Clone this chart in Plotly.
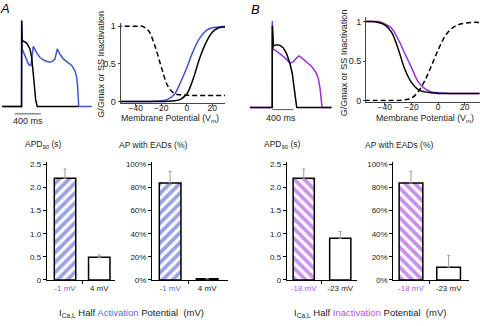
import plotly.graph_objects as go

# ---------------- data ----------------
# Panel A action potentials (time ms, membrane potential mV)
ap_a_black_t = [-300, -2, 0, 8, 25, 77, 128, 154, 179, 194, 216, 240, 870]
ap_a_black_v = [-85, -85, 45, 14, 14, 11, 2, -11, -36, -55, -75, -85, -85]
ap_a_blue_t = [-300, -2, 0, 9, 45, 77, 110, 143, 179, 231, 282, 359, 436, 487, 513, 548,
               590, 641, 693, 770, 821, 847, 862, 878, 1080]
ap_a_blue_v = [-85, -85, 45, 2, -7, -16, -22, -23, 6, -4, -11, -16, -18, -16, -13, 2,
               -6, -13, -17, -23, -31, -41, -55, -85, -85]

# Panel B action potentials
ap_b_black_t = [-425, -2, 0, 19, 84, 147, 210, 274, 337, 381, 413, 438, 465, 1131]
ap_b_black_v = [-85, -85, 39, 8, 10, 9, 5, -4, -19, -34, -54, -74, -85, -85]
ap_b_purple_t = [-425, -2, 0, 19, 84, 147, 242, 337, 400, 465, 509, 560, 655, 750, 832,
                 876, 909, 933, 947, 1131]
ap_b_purple_v = [-85, -85, 46, 3, 0, -4, -10, -18, -16, -10, -7, -10, -17, -23, -32,
                 -41, -56, -74, -85, -85]
scale_bar_ms = 400

# Steady-state curves, panel A (membrane potential mV)
vm_a = [-55, -50, -45, -40, -35, -30, -25, -20, -15, -10, -5, 0, 5, 10, 15, 20, 25, 30]
act_a_blue = [0, 0, 0, 0, 0, 0, 0.005, 0.01, 0.03, 0.09, 0.25, 0.45, 0.67, 0.84, 0.94, 0.98, 0.99, 1.0]
act_a_black = [0, 0, 0, 0, 0, 0, 0, 0, 0.003, 0.01, 0.03, 0.1, 0.3, 0.57, 0.78, 0.92, 0.98, 0.99]
inact_a = [1, 1, 1, 1, 1.0, 0.94, 0.74, 0.46, 0.21, 0.11, 0.09, 0.085, 0.08, 0.08, 0.08, 0.08, 0.08, 0.08]

# Steady-state curves, panel B
vm_b = [-55, -50, -45, -40, -35, -30, -25, -20, -15, -10, -5, 0, 5, 10, 15, 20, 25, 30, 35]
inact_b_black = [1.0, 1.0, 0.99, 0.96, 0.87, 0.66, 0.40, 0.23, 0.14, 0.11, 0.1, 0.09, 0.09,
                 0.09, 0.09, 0.09, 0.09, 0.09, 0.09]
inact_b_purple = [1.0, 1.0, 1.0, 0.97, 0.92, 0.78, 0.6, 0.42, 0.24, 0.15, 0.11, 0.1, 0.095,
                  0.09, 0.09, 0.09, 0.09, 0.09, 0.09]
act_b = [0, 0, 0, 0, 0, 0, 0.01, 0.03, 0.11, 0.25, 0.44, 0.64, 0.81, 0.91, 0.96, 0.98, 0.99, 0.99, 0.99]

# Bar charts
cats_a = ['-1 mV', '4 mV']
cats_b = ['-18 mV', '-23 mV']
apd_a = [2.2, 0.49]
apd_a_err = [0.2, 0.05]
ead_a = [84, 1]
ead_a_err = [10, 0]
apd_b = [2.2, 0.9]
apd_b_err = [0.2, 0.15]
ead_b = [84, 11]
ead_b_err = [10, 10]
apd_ticks = [0, 0.5, 1.0, 1.5, 2.0, 2.5]
apd_ticktext = ['0', '0.5', '1.0', '1.5', '2.0', '2.5']
ead_ticks = [0, 20, 40, 60, 80, 100]
ead_ticktext = ['0%', '20%', '40%', '60%', '80%', '100%']

# ---------------- style ----------------
W, H = 480, 326
FONT = 'Liberation Sans, Arial, Helvetica, sans-serif'
BLUE = '#4254cc'
HATCH_BLUE = '#3445c4'
PURPLE = '#9a2fd6'
HATCH_PURPLE = '#9324d2'
BLUE_TXT = '#5a68d8'
PURPLE_TXT = '#b052e6'
AXC = '#444444'


def dx(a, b):
    return [a / W, b / W]


def dy(top, bottom):
    return [1 - bottom / H, 1 - top / H]


def px(xp, yp):
    return xp / W, 1 - yp / H


fig = go.Figure()

# AP traces
fig.add_trace(go.Scatter(x=ap_a_blue_t, y=ap_a_blue_v, mode='lines',
                         line=dict(color=BLUE, width=1.5), xaxis='x', yaxis='y'))
fig.add_trace(go.Scatter(x=ap_a_black_t, y=ap_a_black_v, mode='lines',
                         line=dict(color='black', width=1.5), xaxis='x', yaxis='y'))
fig.add_trace(go.Scatter(x=ap_b_purple_t, y=ap_b_purple_v, mode='lines',
                         line=dict(color=PURPLE, width=1.5), xaxis='x3', yaxis='y3'))
fig.add_trace(go.Scatter(x=ap_b_black_t, y=ap_b_black_v, mode='lines',
                         line=dict(color='black', width=1.5), xaxis='x3', yaxis='y3'))

# curves A
fig.add_trace(go.Scatter(x=vm_a, y=inact_a, mode='lines', line=dict(color='black', width=1.5, dash='5px,3px', shape='spline'),
                         xaxis='x2', yaxis='y2'))
fig.add_trace(go.Scatter(x=vm_a, y=act_a_blue, mode='lines', line=dict(color=BLUE, width=1.5, shape='spline'),
                         xaxis='x2', yaxis='y2'))
fig.add_trace(go.Scatter(x=vm_a, y=act_a_black, mode='lines', line=dict(color='black', width=1.5, shape='spline'),
                         xaxis='x2', yaxis='y2'))
# curves B
fig.add_trace(go.Scatter(x=vm_b, y=act_b, mode='lines', line=dict(color='black', width=1.5, dash='5px,3px', shape='spline'),
                         xaxis='x4', yaxis='y4'))
fig.add_trace(go.Scatter(x=vm_b, y=inact_b_purple, mode='lines', line=dict(color=PURPLE, width=1.5, shape='spline'),
                         xaxis='x4', yaxis='y4'))
fig.add_trace(go.Scatter(x=vm_b, y=inact_b_black, mode='lines', line=dict(color='black', width=1.5, shape='spline'),
                         xaxis='x4', yaxis='y4'))


def add_bars(vals, errs, color, shape, width, xa, ya):
    fig.add_trace(go.Bar(
        x=[0, 1], y=vals, width=width, xaxis=xa, yaxis=ya,
        marker=dict(color='white', line=dict(color='black', width=1.5),
                    pattern=dict(shape=[shape, ''], fgcolor=color, bgcolor='white', size=7, solidity=0.55)),
        error_y=dict(type='data', symmetric=False, array=errs, arrayminus=[0, 0],
                     color='#999999', thickness=1, width=1.5)))


add_bars(apd_a, apd_a_err, HATCH_BLUE, '/', 0.626, 'x5', 'y5')
add_bars(ead_a, ead_a_err, HATCH_BLUE, '/', 0.585, 'x6', 'y6')
add_bars(apd_b, apd_b_err, HATCH_PURPLE, '\\', 0.58, 'x7', 'y7')
add_bars(ead_b, ead_b_err, HATCH_PURPLE, '\\', 0.63, 'x8', 'y8')

hidden = dict(visible=False, showgrid=False, zeroline=False, fixedrange=True)
tickf = dict(family=FONT, size=8.5, color='#222222')
barf = dict(family=FONT, size=8, color='#222222')


def curve_x(domain, rng, anchor):
    return dict(domain=domain, range=rng, anchor=anchor, showline=True, linecolor=AXC, linewidth=1,
                tickvals=[-40, -20, 0, 20], ticks='outside', ticklen=2, tickcolor=AXC,
                ticklabelstandoff=-5,
                tickfont=tickf, showgrid=False, zeroline=False)


def curve_y(domain, rng, anchor):
    return dict(domain=domain, range=rng, anchor=anchor, showline=True, linecolor=AXC, linewidth=1,
                tickvals=[0, 0.5, 1], ticktext=['0', '0.5', '1'], ticks='outside', ticklen=2, tickcolor=AXC,
                tickfont=dict(family=FONT, size=9, color='#222222'), showgrid=False, zeroline=False)


def bar_x(domain, rng, anchor, labels, colors):
    txt = ["<span style='color:%s'>%s</span>" % (c, l) for l, c in zip(labels, colors)]
    return dict(domain=domain, range=rng, anchor=anchor, showline=True, linecolor='black', linewidth=1,
                tickvals=[0, 1], ticktext=txt, ticks='', tickfont=barf, showgrid=False, zeroline=False,
                minor=dict(tickvals=[0.5], ticks='outside', ticklen=3, tickcolor='black'))


def bar_y(domain, rng, anchor, tv, tt):
    return dict(domain=domain, range=rng, anchor=anchor, showline=True, linecolor='black', linewidth=1,
                tickvals=tv, ticktext=tt, ticks='outside', ticklen=3, tickcolor='black',
                tickfont=barf, showgrid=False, zeroline=False)


layout = dict(
    width=W, height=H, margin=dict(l=0, r=0, t=0, b=0), paper_bgcolor='white', plot_bgcolor='rgba(0,0,0,0)',
    showlegend=False, font=dict(family=FONT, color='#222222'),
    xaxis=dict(domain=dx(2, 92), range=[-303, 1083], anchor='y', **hidden),
    yaxis=dict(domain=dy(15, 110), range=[-89.9, 50.9], anchor='x', **hidden),
    xaxis3=dict(domain=dx(250, 331.7), range=[-425, 1131], anchor='y3', **hidden),
    yaxis3=dict(domain=dy(15, 110), range=[-88.4, 52.4], anchor='x3', **hidden),
    xaxis2=curve_x(dx(120.5, 225), [-52, 30], 'y2'),
    yaxis2=curve_y(dy(21, 103.3), [-0.02, 1.05], 'x2'),
    xaxis4=curve_x(dx(366, 479.5), [-54, 31], 'y4'),
    yaxis4=curve_y(dy(15.2, 101.7), [-0.012, 1.06], 'x4'),
    xaxis5=bar_x(dx(46.7, 115), [-0.535, 1.46], 'y5', cats_a, [BLUE_TXT, '#222222']),
    yaxis5=bar_y(dy(163.3, 284), [0, 2.557], 'x5', apd_ticks, apd_ticktext),
    xaxis6=bar_x(dx(152, 228.3), [-0.49, 1.57], 'y6', cats_a, [BLUE_TXT, '#222222']),
    yaxis6=bar_y(dy(163.3, 284), [0, 102.3], 'x6', ead_ticks, ead_ticktext),
    xaxis7=bar_x(dx(286.7, 356.7), [-0.466, 1.45], 'y7', cats_b, [PURPLE_TXT, '#222222']),
    yaxis7=bar_y(dy(163.3, 284), [0, 2.557], 'x7', apd_ticks, apd_ticktext),
    xaxis8=bar_x(dx(393.3, 469.3), [-0.47, 1.55], 'y8', cats_b, [PURPLE_TXT, '#222222']),
    yaxis8=bar_y(dy(163.3, 284), [0, 102.3], 'x8', ead_ticks, ead_ticktext),
)
fig.update_layout(**layout)

# scale bars (400 ms)
for xref, t0, yp in [('x', -103, 114.3), ('x3', 0, 110)]:
    fig.add_shape(type='line', xref=xref, yref='paper', x0=t0, x1=t0 + scale_bar_ms,
                  y0=1 - yp / H, y1=1 - yp / H, line=dict(color='#555555', width=1))

ann = []


def add_text(text, xp, yp, size, color='#222222', angle=0):
    x, y = px(xp, yp)
    ann.append(dict(text=text, x=x, y=y, xref='paper', yref='paper', showarrow=False,
                    xanchor='center', yanchor='middle', textangle=angle,
                    font=dict(family=FONT, size=size, color=color)))


add_text('<i>A</i>', 5, 6.5, 13, 'black')
add_text('<i>B</i>', 255.5, 7.5, 13, 'black')
add_text('400 ms', 28, 121.5, 9)
add_text('400 ms', 280.5, 118.3, 9)
add_text('G/Gmax or SS Inactivation', 101, 64, 9, angle=-90)
add_text('G/Gmax or SS Inactivation', 344, 62.5, 9, angle=-90)
add_text('Membrane Potential (V<sub>m</sub>)', 170, 119.3, 8.8)
add_text('Membrane Potential (V<sub>m</sub>)', 425, 119.3, 8.8)
add_text('APD<sub>90</sub> (s)', 43.3, 145.7, 8.5)
add_text('AP with EADs (%)', 153.3, 145.7, 8.5)
add_text('APD<sub>90</sub> (s)', 282.5, 145.7, 8.5)
add_text('AP with EADs (%)', 399, 145.7, 8.5)
add_text("I<sub>Ca,L</sub> Half <span style='color:%s'>Activation</span> Potential  (mV)" % BLUE_TXT,
         131.7, 318, 9.5)
add_text("I<sub>Ca,L</sub> Half <span style='color:%s'>Inactivation</span> Potential  (mV)" % PURPLE_TXT,
         370, 318, 9.5)
fig.update_layout(annotations=ann)

fig.write_html('out.html', config={'displayModeBar': False},
               post_script="document.body.style.margin='0';document.body.style.overflow='hidden';")
